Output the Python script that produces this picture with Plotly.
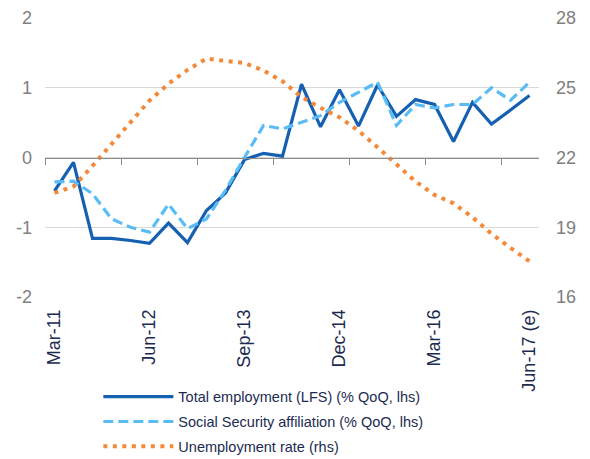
import plotly.graph_objects as go

quarters = [
    "Mar-11", "Jun-11", "Sep-11", "Dec-11",
    "Mar-12", "Jun-12", "Sep-12", "Dec-12",
    "Mar-13", "Jun-13", "Sep-13", "Dec-13",
    "Mar-14", "Jun-14", "Sep-14", "Dec-14",
    "Mar-15", "Jun-15", "Sep-15", "Dec-15",
    "Mar-16", "Jun-16", "Sep-16", "Dec-16",
    "Mar-17", "Jun-17 (e)",
]
label_step = 5
tick_step = 4

total_employment = [
    -0.48, -0.07, -1.16, -1.16, -1.19, -1.23, -0.94, -1.22, -0.76, -0.51,
    -0.03, 0.06, 0.02, 1.05, 0.44, 0.97, 0.45, 1.04, 0.59, 0.83,
    0.76, 0.23, 0.79, 0.48, 0.68, 0.89,
]
social_security = [
    -0.35, -0.34, -0.52, -0.88, -1.00, -1.07, -0.67, -1.02, -0.88, -0.47,
    0.00, 0.46, 0.41, 0.50, 0.60, 0.79, 0.94, 1.08, 0.46, 0.76,
    0.71, 0.76, 0.76, 1.00, 0.82, 1.08,
]
unemployment = [
    20.48, 20.75, 21.64, 22.56, 23.52, 24.45, 25.17, 25.77, 26.25, 26.16,
    26.06, 25.74, 25.28, 24.60, 24.14, 23.73, 23.15, 22.44, 21.69, 20.97,
    20.39, 20.03, 19.43, 18.72, 18.11, 17.54,
]

left_ticks = [-2, -1, 0, 1, 2]
left_ticktext = ["-2", "-1", "0", "1", "2"]
right_ticks = [16, 19, 22, 25, 28]

names = [
    "Total employment (LFS) (% QoQ, lhs)",
    "Social Security affiliation (% QoQ, lhs)",
    "Unemployment rate (rhs)",
]

idx = list(range(len(quarters)))
FONT = "Liberation Sans, Arial, sans-serif"
NAVY = "#1c2b50"
GRAY = "#808080"

fig = go.Figure()
fig.add_trace(go.Scatter(
    x=idx, y=total_employment, name=names[0], mode="lines", legendgroup="a",
    line=dict(color="#1560b0", width=3.2),
    xaxis="x", yaxis="y",
))
fig.add_trace(go.Scatter(
    x=idx, y=social_security, name=names[1], mode="lines", legendgroup="b",
    line=dict(color="#5abcf5", width=3.2, dash="10px,5px"),
    xaxis="x", yaxis="y",
))
fig.add_trace(go.Scatter(
    x=idx, y=unemployment, name=names[2], mode="lines", legendgroup="c",
    line=dict(color="#f5893a", width=4, dash="4px,5.5px"),
    xaxis="x2", yaxis="y2",
))

xr = [-0.5, len(quarters) - 0.5]
fig.update_layout(
    width=590, height=459,
    margin=dict(l=45, r=51, t=18, b=162, autoexpand=False),
    paper_bgcolor="white", plot_bgcolor="white",
    font=dict(family=FONT, color=NAVY),
    showlegend=True,
    legend=dict(
        x=0.108, xanchor="left", y=-0.3, yanchor="top",
        font=dict(size=14.5, color=NAVY, family=FONT),
        itemwidth=70, tracegroupgap=3,
        bgcolor="rgba(0,0,0,0)",
    ),
    xaxis=dict(
        range=xr, tickmode="array",
        tickvals=idx[::label_step], ticktext=quarters[::label_step],
        tickangle=-90, showgrid=False, zeroline=False, showline=False,
        ticks="", tickfont=dict(size=18, color=NAVY, family=FONT),
        ticklabelstandoff=8, automargin=False,
        anchor="y",
    ),
    xaxis2=dict(
        range=xr, overlaying="x", anchor="free", position=0.5,
        tickmode="array", tickvals=[i - 0.5 for i in idx[::tick_step]],
        showticklabels=False, ticks="outside", ticklen=6, tickcolor="#8c8c8c",
        tickwidth=1, showline=True, linecolor="#8c8c8c", linewidth=1,
        showgrid=False, zeroline=False, automargin=False,
    ),
    yaxis=dict(
        range=[-2, 2], tickmode="array", tickvals=left_ticks,
        ticktext=left_ticktext, showgrid=True, gridcolor="#d9d9d9",
        gridwidth=1, zeroline=False, showline=False, ticks="",
        ticklabelstandoff=12, automargin=False,
        tickfont=dict(size=18, color=GRAY, family=FONT),
    ),
    yaxis2=dict(
        range=[16, 28], tickmode="array", tickvals=right_ticks,
        overlaying="y", side="right",
        showgrid=False, zeroline=False, showline=False, ticks="",
        ticklabelstandoff=16, automargin=False,
        tickfont=dict(size=18, color=GRAY, family=FONT),
    ),
)

fig.write_html("out.html")
